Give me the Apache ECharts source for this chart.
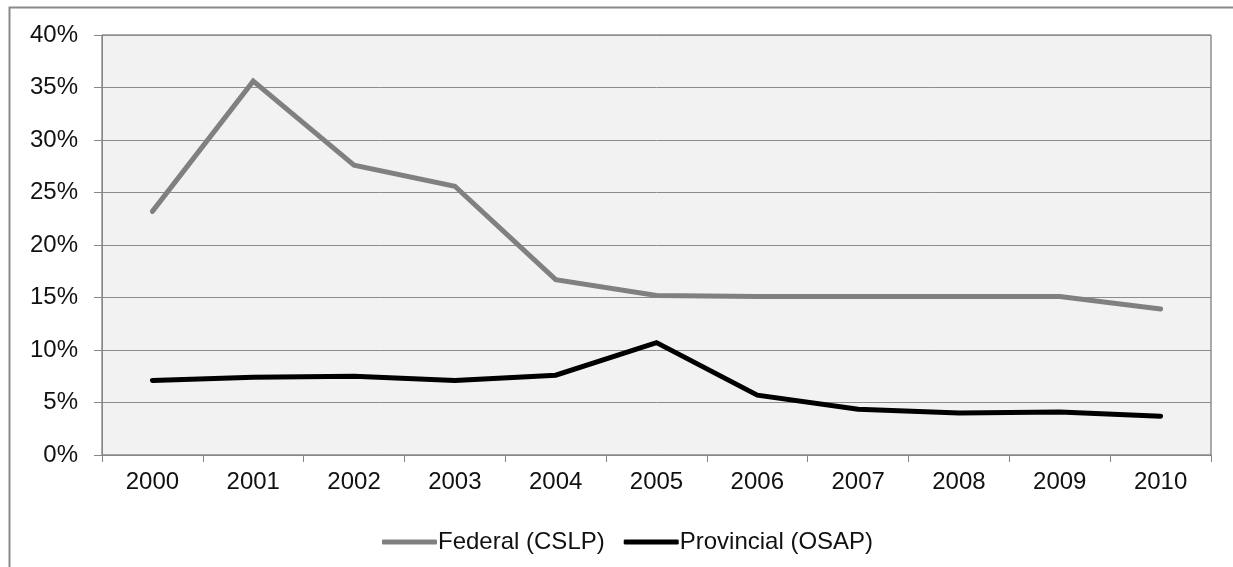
<!DOCTYPE html>
<html>
<head>
<meta charset="utf-8">
<script src="https://cdn.jsdelivr.net/npm/echarts@6/dist/echarts.min.js"></script>
<style>
html,body{margin:0;padding:0;background:#fff;}
#chart{width:1233px;height:567px;}
</style>
</head>
<body>
<div id="chart"></div>
<script>
const years = ['2000','2001','2002','2003','2004','2005','2006','2007','2008','2009','2010'];
const federal = [23.2, 35.6, 27.6, 25.6, 16.7, 15.2, 15.1, 15.1, 15.1, 15.1, 13.9];
const provincial = [7.1, 7.4, 7.5, 7.1, 7.6, 10.7, 5.7, 4.35, 4.0, 4.1, 3.7];
const seriesNames = ['Federal (CSLP)', 'Provincial (OSAP)'];
const yTicks = {min: 0, max: 40, interval: 5};

const FONT = '"Liberation Sans", Arial, sans-serif';
const chart = echarts.init(document.getElementById('chart'), null, {renderer: 'canvas'});
chart.setOption({
  animation: false,
  backgroundColor: '#ffffff',
  textStyle: {fontFamily: FONT},
  graphic: [{
    type: 'rect',
    left: 7, top: 5,
    shape: {width: 1400, height: 800},
    style: {fill: 'none', stroke: '#8a8a8a', lineWidth: 2},
    silent: true, z: -10
  }],
  grid: {
    left: 102, right: 22, top: 35, bottom: 112,
    show: true, backgroundColor: '#f2f2f2', borderColor: '#5a5a5a', borderWidth: 1
  },
  legend: {
    data: seriesNames,
    top: 530,
    left: 382,
    padding: 0,
    icon: 'roundRect',
    itemWidth: 55,
    itemHeight: 5,
    itemGap: 19,
    textStyle: {fontFamily: FONT, fontSize: 24, color: '#111', padding: [0, 0, 0, -4]}
  },
  xAxis: {
    type: 'category',
    data: years,
    boundaryGap: true,
    axisLine: {lineStyle: {color: '#868686', width: 1}},
    axisTick: {show: true, length: 7, lineStyle: {color: '#868686'}},
    axisLabel: {color: '#111', fontSize: 24, fontFamily: FONT, margin: 15},
    splitLine: {show: false}
  },
  yAxis: {
    type: 'value',
    min: yTicks.min, max: yTicks.max, interval: yTicks.interval,
    axisLine: {show: true, lineStyle: {color: '#868686', width: 1}},
    axisTick: {show: true, length: 8, lineStyle: {color: '#868686'}},
    axisLabel: {color: '#111', fontSize: 24, fontFamily: FONT, margin: 24, formatter: '{value}%'},
    splitLine: {show: true, lineStyle: {color: '#8c8c8c', width: 1}}
  },
  series: [
    {
      name: seriesNames[0], type: 'line', data: federal,
      symbol: 'none',
      lineStyle: {color: '#808080', width: 5, cap: 'round', join: 'miter'},
      itemStyle: {color: '#808080'}
    },
    {
      name: seriesNames[1], type: 'line', data: provincial,
      symbol: 'none',
      lineStyle: {color: '#000000', width: 5, cap: 'round', join: 'miter'},
      itemStyle: {color: '#000000'}
    }
  ]
});
</script>
</body>
</html>
